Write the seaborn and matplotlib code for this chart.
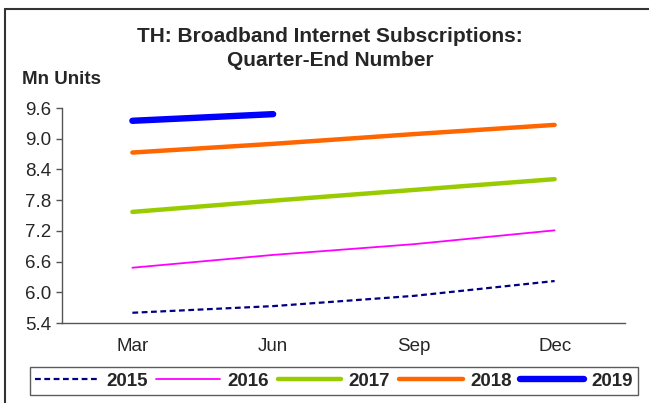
import numpy as np
import pandas as pd
import seaborn as sns
import matplotlib.pyplot as plt
from matplotlib.lines import Line2D

#%% data

quarters = ['Mar', 'Jun', 'Sep', 'Dec']
years = ['2015', '2016', '2017', '2018', '2019']
v2015 = [5.60, 5.73, 5.93, 6.22]
v2016 = [6.48, 6.73, 6.94, 7.21]
v2017 = [7.57, 7.79, 8.00, 8.21]
v2018 = [8.73, 8.90, 9.09, 9.27]
v2019 = [9.35, 9.48]
yticks = [5.4, 6.0, 6.6, 7.2, 7.8, 8.4, 9.0, 9.6]

values = [v2015, v2016, v2017, v2018, v2019]
colors = ['#000080', '#FF00FF', '#99CC00', '#FF6600', '#0000FF']
widths = [1.6, 1.3, 3.2, 3.2, 4.6]
styles = [(0, (2.6, 1.6)), '-', '-', '-', '-']

rows = []
for y, vals in zip(years, values):
    for i, v in enumerate(vals):
        rows.append({'year': y, 'pos': i, 'value': v})
df = pd.DataFrame(rows)

#%% plot

sns.set_style('white')
plt.rcParams['font.family'] = ['Liberation Sans', 'DejaVu Sans']

fig = plt.figure(figsize=(6.49, 4.03), dpi=100)
ax = fig.add_axes([62/649, 1-323/403, (625-62)/649, (323-108)/403])

for y, c, w, s in zip(years, colors, widths, styles):
    sub = df[df['year'] == y]
    sns.lineplot(data=sub, x='pos', y='value', ax=ax, color=c, linewidth=w,
                 linestyle=s, solid_capstyle='round', label=y)
ax.get_legend().remove()

ax.set_xlim(-0.5, 3.5)
ax.set_ylim(5.4, 9.6)
ax.set_yticks(yticks)
ax.set_yticklabels(['%.1f' % t for t in yticks], fontsize=13.5)
ax.set_xticks(np.arange(-0.5, 4, 1))
ax.set_xticklabels([])
ax.set_xticks(range(4), minor=True)
ax.set_xticklabels(quarters, minor=True, fontsize=13.5)
ax.tick_params(axis='x', which='major', direction='in', length=5, width=1, color='#555555')
ax.tick_params(axis='x', which='minor', length=0, pad=11)
ax.tick_params(axis='y', direction='out', length=4, width=1, color='#555555', pad=4, left=True)
ax.set_xlabel('')
ax.set_ylabel('')
sns.despine(ax=ax)
for sp in ['left', 'bottom']:
    ax.spines[sp].set_color('#555555')
    ax.spines[sp].set_linewidth(1)

fig.text(330/649, 1-37/403, 'TH: Broadband Internet Subscriptions:', ha='center', va='center',
         fontsize=15, fontweight='bold')
fig.text(330/649, 1-61/403, 'Quarter-End Number', ha='center', va='center',
         fontsize=15, fontweight='bold')
fig.text(22/649, 1-79/403, 'Mn Units', ha='left', va='center', fontsize=13.5, fontweight='bold')

handles, labels = ax.get_legend_handles_labels()
leg = fig.legend(handles, labels, loc='center', bbox_to_anchor=(334/649, 1-381/403), ncol=5,
                 frameon=True, fancybox=False, handlelength=3.4, handletextpad=0.4,
                 columnspacing=0.45, borderpad=0.3, borderaxespad=0,
                 prop={'weight': 'bold', 'size': 13.5})
leg.get_frame().set_edgecolor('#333333')
leg.get_frame().set_linewidth(1)

# outer frame
fig.add_artist(Line2D([4.5/649, 1], [1-8.5/403, 1-8.5/403], color='#333333', lw=1.5))
fig.add_artist(Line2D([4.5/649, 4.5/649], [0, 1-8.5/403], color='#333333', lw=1.5))

fig.savefig('out.png', dpi=100)
